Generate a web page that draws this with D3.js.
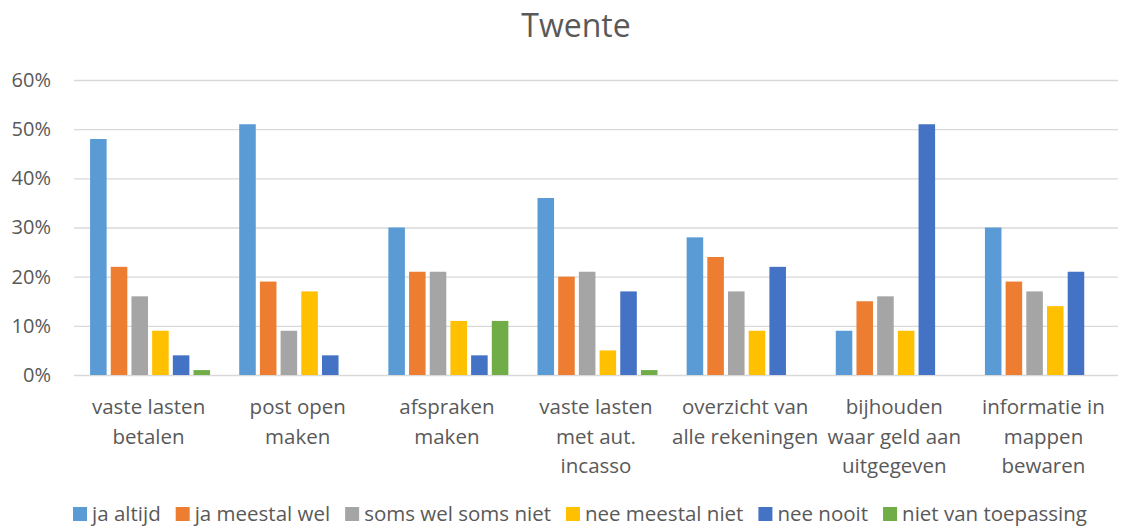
<!DOCTYPE html>
<html>
<head>
<meta charset="utf-8">
<script src="https://cdn.jsdelivr.net/npm/d3@7"></script>
<style>
  body { margin: 0; background: #fff; }
  text { font-family: "Open Sans", "Noto Sans", sans-serif; fill: #595959; }
</style>
</head>
<body>
<div id="container"></div>
<script>
/* DATA */
const categories = [
  "vaste lasten betalen",
  "post open maken",
  "afspraken maken",
  "vaste lasten met aut. incasso",
  "overzicht van alle rekeningen",
  "bijhouden waar geld aan uitgegeven",
  "informatie in mappen bewaren"
];
// how the axis labels wrap in the picture
const categoryLines = [
  ["vaste lasten", "betalen"],
  ["post open", "maken"],
  ["afspraken", "maken"],
  ["vaste lasten", "met aut.", "incasso"],
  ["overzicht van", "alle rekeningen"],
  ["bijhouden", "waar geld aan", "uitgegeven"],
  ["informatie in", "mappen", "bewaren"]
];
const seriesNames = ["ja altijd", "ja meestal wel", "soms wel soms niet", "nee meestal niet", "nee nooit", "niet van toepassing"];
const jaAltijd = [0.48, 0.51, 0.30, 0.36, 0.28, 0.09, 0.30];
const jaMeestalWel = [0.22, 0.19, 0.21, 0.20, 0.24, 0.15, 0.19];
const somsWelSomsNiet = [0.16, 0.09, 0.21, 0.21, 0.17, 0.16, 0.17];
const neeMeestalNiet = [0.09, 0.17, 0.11, 0.05, 0.09, 0.09, 0.14];
const neeNooit = [0.04, 0.04, 0.04, 0.17, 0.22, 0.51, 0.21];
const nietVanToepassing = [0.01, 0, 0.11, 0.01, 0, 0, 0];
const yTicks = [0, 0.1, 0.2, 0.3, 0.4, 0.5, 0.6];

const seriesValues = [jaAltijd, jaMeestalWel, somsWelSomsNiet, neeMeestalNiet, neeNooit, nietVanToepassing];
const colors = ["#5B9BD5", "#ED7D31", "#A5A5A5", "#FFC000", "#4472C4", "#70AD47"];

/* LAYOUT */
const width = 1125, height = 530,
  margin = { top: 80, bottom: 155, left: 74, right: 7 };

const svg = d3.select("#container")
  .append("svg")
  .attr("width", width)
  .attr("height", height);

// title
svg.append("text")
  .attr("x", 576)
  .attr("y", 37)
  .attr("text-anchor", "middle")
  .style("font-size", "32px")
  .text("Twente");

/* SCALES */
const xScale = d3.scaleBand()
  .domain(categories)
  .range([margin.left, width - margin.right]);

const xInner = d3.scaleBand()
  .domain(seriesNames)
  .range([0, 120])
  .paddingInner(0.2);

const yScale = d3.scaleLinear()
  .domain([0, 0.6])
  .range([height - margin.bottom, margin.top]);

/* GRIDLINES + Y AXIS */
const yAxis = d3.axisLeft(yScale)
  .tickValues(yTicks)
  .tickFormat(d3.format(".0%"))
  .tickSize(-(width - margin.left - margin.right));

const gy = svg.append("g")
  .attr("transform", `translate(${margin.left},0)`)
  .call(yAxis);
gy.select(".domain").remove();
gy.selectAll(".tick line").attr("stroke", "#d9d9d9").attr("stroke-width", 1.3);
gy.selectAll(".tick text")
  .attr("x", -23)
  .style("font-size", "20px")
  .style("font-family", "Open Sans, sans-serif")
  .style("fill", "#595959");

/* BARS */
const groups = svg.append("g")
  .selectAll("g")
  .data(seriesNames)
  .join("g")
  .attr("fill", (d, i) => colors[i]);

groups.selectAll("rect")
  .data((s, si) => categories.map((c, ci) => ({ cat: c, series: s, value: seriesValues[si][ci] })))
  .join("rect")
  .filter(d => d.value > 0)
  .attr("x", d => xScale(d.cat) + (xScale.bandwidth() - 120) / 2 + xInner(d.series) + 1.5)
  .attr("width", xInner.bandwidth())
  .attr("y", d => yScale(d.value))
  .attr("height", d => yScale(0) - yScale(d.value));

/* X AXIS LABELS */
const xl = svg.append("g")
  .selectAll("text")
  .data(categories)
  .join("text")
  .attr("text-anchor", "middle")
  .attr("transform", d => `translate(${xScale(d) + xScale.bandwidth() / 2}, 414)`)
  .style("font-size", "20.5px");

xl.selectAll("tspan")
  .data((d, i) => categoryLines[i])
  .join("tspan")
  .attr("x", 0)
  .attr("y", (d, i) => i * 29.5)
  .text(d => d);

/* LEGEND */
const legend = svg.append("g").attr("transform", "translate(0, 514)");
const items = legend.selectAll("g")
  .data(seriesNames)
  .join("g");
items.append("rect")
  .attr("width", 14)
  .attr("height", 14)
  .attr("y", -7)
  .attr("fill", (d, i) => colors[i]);
items.append("text")
  .attr("x", 19)
  .attr("dy", "0.35em")
  .style("font-size", "20.5px")
  .text(d => d);

// place items one after another, centred like the reference
const widths = [];
items.each(function () {
  widths.push(19 + this.querySelector("text").getComputedTextLength());
});
const gap = 15;
const total = d3.sum(widths) + gap * (widths.length - 1);
const start = (66 + 1094) / 2 - total / 2;
let offset = 0;
items.attr("transform", (d, i) => {
  const x = start + offset;
  offset += widths[i] + gap;
  return `translate(${x},0)`;
});
</script>
</body>
</html>
